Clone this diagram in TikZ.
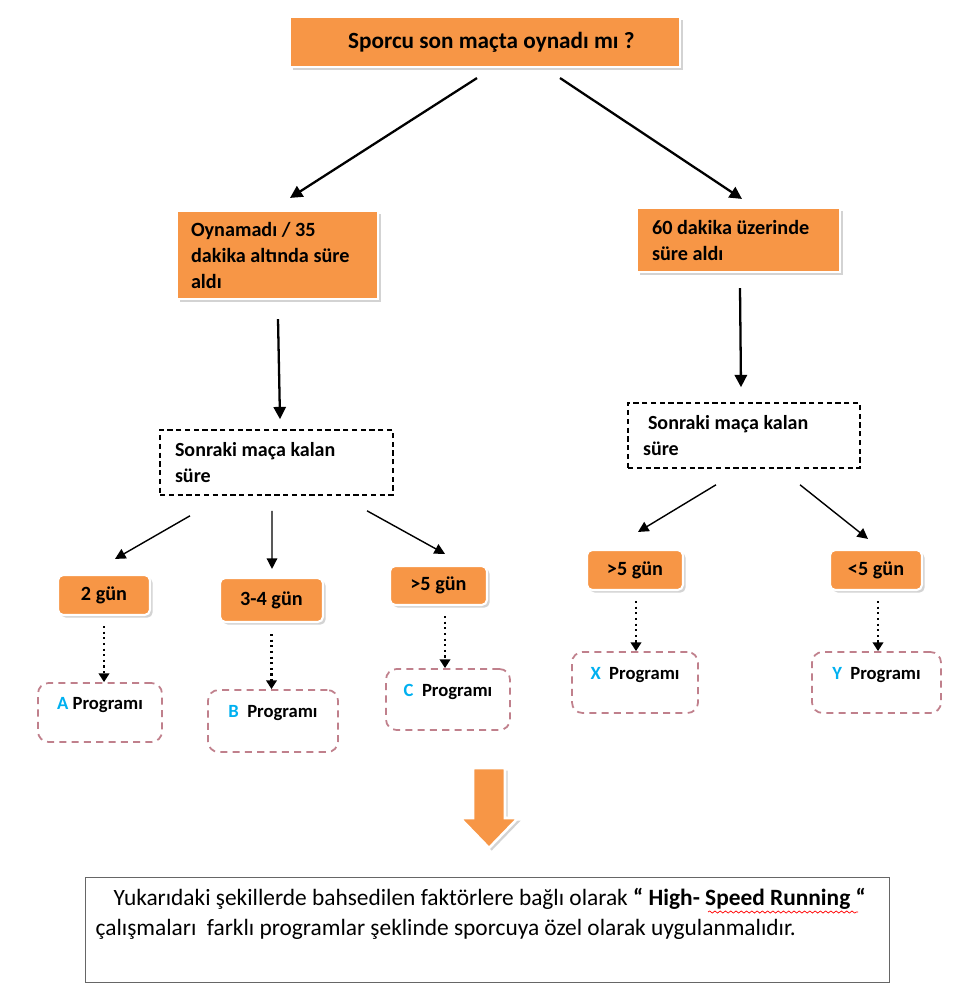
\documentclass[tikz,border=0pt]{standalone}
\usepackage{fontspec}
\setmainfont{Carlito}
\usetikzlibrary{arrows.meta,shadows,decorations.pathmorphing}
\definecolor{turuncu}{RGB}{247,150,70}
\definecolor{mavi}{RGB}{0,176,240}
\definecolor{pembe}{RGB}{192,128,140}

\begin{document}
\begin{tikzpicture}[x=0.2mm,y=-0.2mm,
		kutu/.style={rectangle, fill=turuncu, draw=white, line width=1.2pt, drop shadow={shadow xshift=1.5pt, shadow yshift=-1.5pt, opacity=0.35}},
		cokkutu/.style={kutu, align=flush left, inner xsep=3mm, font=\bfseries\fontsize{11.5}{14.8}\selectfont},
		gunkutu/.style={kutu, rounded corners=3pt, minimum height=0.8cm, font=\bfseries\fontsize{11.5}{13}\selectfont},
		kesik/.style={rectangle, draw, dash pattern=on 3pt off 2pt, line width=0.9pt, align=flush left, inner xsep=3mm, minimum height=1.3cm, font=\bfseries\fontsize{11.4}{14.5}\selectfont},
		prog/.style={rectangle, draw=pembe, dash pattern=on 4pt off 3pt, line width=1pt, rounded corners=6pt, text height=3mm, text depth=4.4mm, font=\bfseries\fontsize{10.6}{12}\selectfont},
		ok/.style={-{Triangle[length=6pt,width=6pt]}, line width=0.8pt},
		kalinok/.style={-{Triangle[length=7pt,width=7pt]}, line width=1.3pt},
		nok/.style={-{Triangle[length=5pt,width=6pt]}, dotted, line width=1.2pt}]
		\useasboundingbox (0,0) rectangle (960,1002);
		\node[kutu, minimum width=7.8cm, minimum height=1cm, font=\bfseries\fontsize{13.2}{15}\selectfont] (soru) at (485,42) {\hspace*{0.55em}Sporcu son maçta oynadı mı ?};
		\node[cokkutu, text width=3.46cm, inner xsep=2.8mm, minimum height=1.76cm] (oynamadi) at (277.5,255) {Oynamadı~/~35\\dakika~altında~süre\\aldı};
		\node[cokkutu, text width=3.46cm, minimum height=1.28cm] (oynadi) at (738.5,240) {60~dakika~üzerinde\\süre~aldı};
		\node[kesik, text width=4.06cm] (kalan1) at (276.5,462.5) {Sonraki~maça~kalan\\süre};
		\node[kesik, text width=4.04cm] (kalan2) at (744,435.5) {\hspace*{1mm}Sonraki~maça~kalan\\süre};
		\node[gunkutu, minimum width=1.84cm] (gun2) at (104,595) {2 gün};
		\node[gunkutu, minimum width=2.06cm, minimum height=0.88cm] (gun34) at (271.5,600) {3-4 gün};
		\node[gunkutu, minimum width=1.94cm, minimum height=0.78cm] (gun5a) at (438.5,585.5) {>5 gün};
		\node[gunkutu, minimum width=1.92cm] (gun5b) at (635,570) {>5 gün};
		\node[gunkutu, minimum width=1.84cm] (gun5c) at (876,570) {<5 gün};
		\node[prog, minimum width=2.48cm, minimum height=1.18cm] (progA) at (100,712.5) {\textcolor{mavi}{A} Programı};
		\node[prog, minimum width=2.6cm, minimum height=1.24cm] (progB) at (273,721) {\textcolor{mavi}{B}\ \ Programı};
		\node[prog, minimum width=2.48cm, minimum height=1.22cm] (progC) at (448,699.5) {\textcolor{mavi}{C}\ \ Programı};
		\node[prog, minimum width=2.52cm, minimum height=1.22cm] (progX) at (635,682.5) {\textcolor{mavi}{X}\ \ Programı};
		\node[prog, minimum width=2.58cm, minimum height=1.22cm] (progY) at (876.5,682.5) {\textcolor{mavi}{Y}\ \ Programı};
		\node[rectangle, draw=black!60, line width=0.8pt, anchor=north west, minimum width=16.08cm, minimum height=2.1cm, text width=15.68cm, inner xsep=2mm, align=flush left, text height=2.8mm, text depth=12.6mm, font=\fontsize{13.3}{17}\selectfont] (not) at (85,877) {\hspace*{3.6mm}Yukarıdaki şekillerde bahsedilen faktörlere bağlı olarak \textbf{“ High- Speed Running “}\\çalışmaları\ \ farklı programlar şeklinde sporcuya özel olarak uygulanmalıdır.};
		\draw[red, line width=0.4pt, decorate, decoration={snake, amplitude=0.6pt, segment length=3pt}] (708,912) -- (858,912);
		
		\draw[kalinok] ([xshift=-1.6mm,yshift=-2mm]soru.south) -- ([xshift=2.5mm,yshift=2.4mm]oynamadi.north);
		\draw[kalinok] ([xshift=15mm,yshift=-2mm]soru.south) -- ([xshift=0.7mm,yshift=1.6mm]oynadi.north);
		\draw[kalinok] ([xshift=0.1mm,yshift=-3.8mm]oynamadi.south) -- ([xshift=0.7mm,yshift=2mm]kalan1.north);
		\draw[kalinok] ([xshift=0.3mm,yshift=-3mm]oynadi.south) -- ([xshift=-0.6mm,yshift=3mm]kalan2.north);
		\draw[ok] ([xshift=-17.3mm,yshift=-4mm]kalan1.south) -- ([xshift=2.2mm,yshift=3mm]gun2.north);
		\draw[ok] ([xshift=-0.9mm,yshift=-3mm]kalan1.south) -- ([xshift=0.1mm,yshift=1.6mm]gun34.north);
		\draw[ok] ([xshift=18.1mm,yshift=-3mm]kalan1.south) -- ([xshift=1.3mm,yshift=2.2mm]gun5a.north);
		\draw[ok] ([xshift=-5.6mm,yshift=-3.2mm]kalan2.south) -- ([xshift=0.6mm,yshift=3.4mm]gun5b.north);
		\draw[ok] ([xshift=11.2mm,yshift=-3.2mm]kalan2.south) -- ([xshift=-1.6mm,yshift=2mm]gun5c.north);
		\draw[nok] ([yshift=-2mm]gun2.south) -- (gun2.south |- progA.north);
		\draw[nok] ([yshift=-2.2mm]gun34.south) -- (gun34.south |- progB.north);
		\draw[nok] ([xshift=1.3mm,yshift=-2mm]gun5a.south) -- ([xshift=1.3mm]gun5a.south |- progC.north);
		\draw[nok] ([xshift=0.2mm,yshift=-2mm]gun5b.south) -- ([xshift=0.2mm]gun5b.south |- progX.north);
		\draw[nok] ([xshift=0.4mm,yshift=-2mm]gun5c.south) -- ([xshift=0.4mm]gun5c.south |- progY.north);
		
		\draw[fill=turuncu, draw=white, line width=1.5pt, drop shadow={shadow xshift=1.5pt, shadow yshift=-1.5pt, opacity=0.35}] (473,768) -- (505,768) -- (505,818) -- (518,818) -- (489,848) -- (460,818) -- (473,818) -- cycle;
\end{tikzpicture}
\end{document}
